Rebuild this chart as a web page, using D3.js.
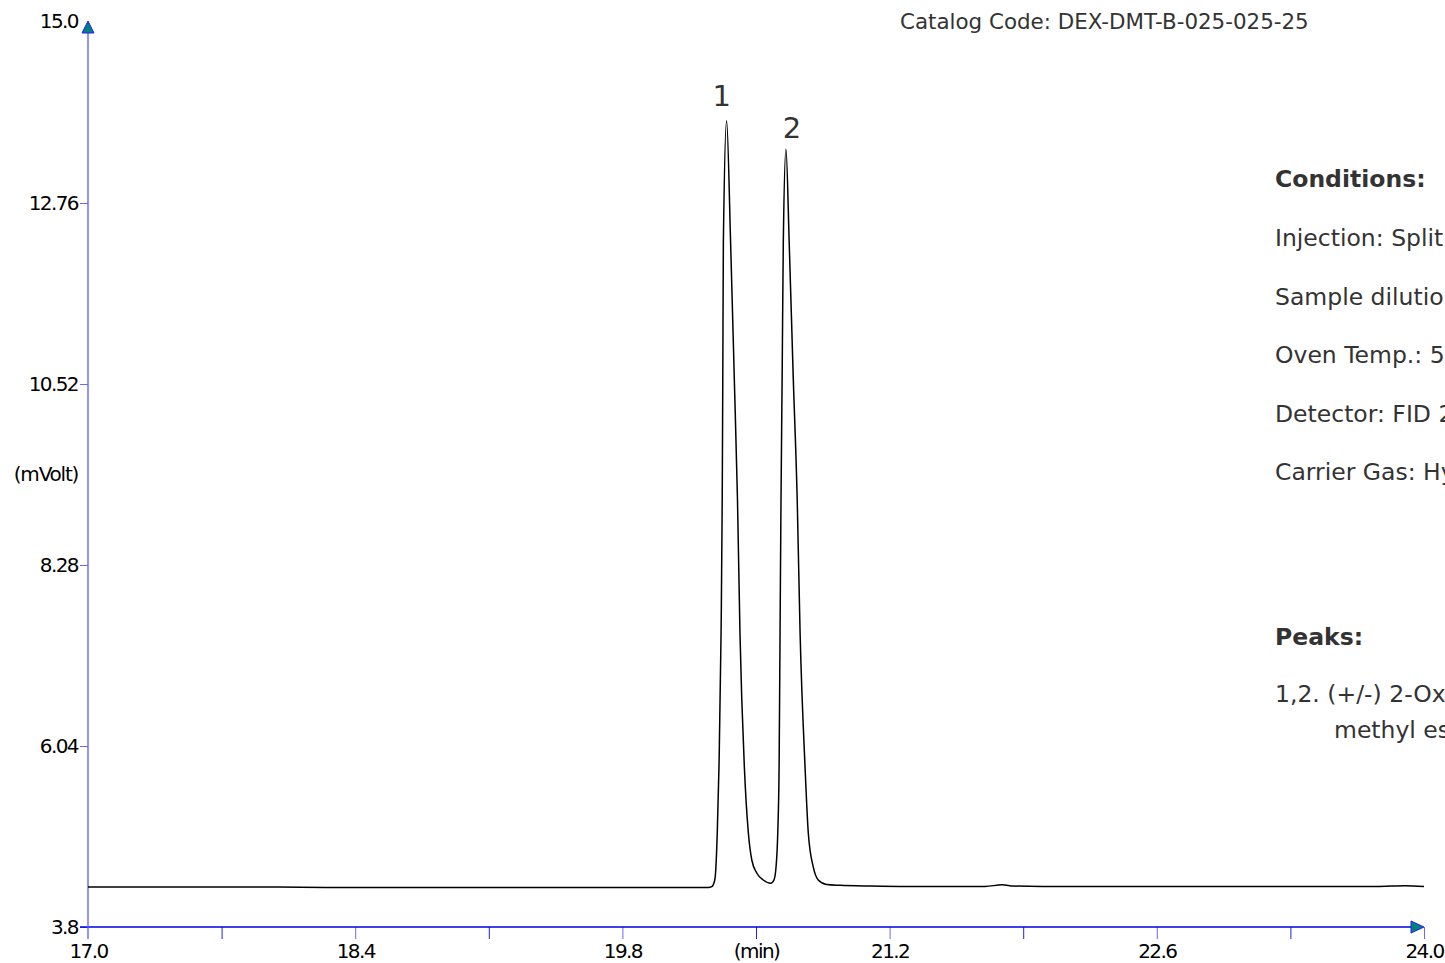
<!DOCTYPE html>
<html>
<head>
<meta charset="utf-8">
<script src="https://cdn.jsdelivr.net/npm/d3@7.9.0/dist/d3.min.js"></script>
<style>
  html, body { margin: 0; padding: 0; background: #fff; overflow: hidden; }
  svg { display: block; }
  .tick text { font-family: "DejaVu Sans", sans-serif; font-size: 20px; letter-spacing: -1.6px; fill: #000; }
  .info { font-family: "DejaVu Sans", sans-serif; font-size: 23.5px; fill: #333; }
</style>
</head>
<body>
<svg id="chart" width="1445" height="963"></svg>
<script>
// Chromatogram trace (time in min, signal in mVolt)
const times = [
  17.0, 17.25, 17.5, 17.75, 18.0, 18.25, 18.5, 18.75, 19.0, 19.25, 19.5, 19.75,
  20.0, 20.15, 20.25, 20.268, 20.284, 20.290, 20.297, 20.306, 20.317, 20.323,
  20.326, 20.329, 20.346, 20.367, 20.386, 20.403, 20.416, 20.439, 20.460, 20.478,
  20.504, 20.538, 20.577, 20.594, 20.605, 20.614, 20.621, 20.626, 20.631, 20.637,
  20.643, 20.657, 20.674, 20.695, 20.716, 20.731, 20.757, 20.774, 20.800, 20.826,
  20.870, 20.940, 21.10, 21.3, 21.5, 21.7, 21.79, 21.85, 22.0, 22.25, 22.5, 22.75,
  23.0, 23.25, 23.5, 23.75, 23.9, 24.0
];
const signal = [
  4.295, 4.295, 4.295, 4.295, 4.295, 4.29, 4.29, 4.289, 4.29, 4.289, 4.289, 4.29,
  4.289, 4.289, 4.289, 4.299, 4.382, 4.543, 4.963, 5.780, 7.439, 9.085,
  10.611, 12.265, 13.779, 12.265, 10.611, 9.085, 7.439, 5.780, 4.963, 4.629,
  4.468, 4.382, 4.341, 4.382, 4.543, 4.963, 5.780, 7.439, 9.085, 10.611,
  12.265, 13.425, 12.265, 10.611, 9.085, 7.439, 5.780, 4.963, 4.543, 4.382,
  4.326, 4.316, 4.307, 4.302, 4.302, 4.302, 4.322, 4.307, 4.302, 4.302, 4.302, 4.302,
  4.302, 4.302, 4.302, 4.302, 4.312, 4.302
];

// Peak labels
const peakNames = ["1", "2"];
const peakTimes = [20.346, 20.657];
const peakHeights = [13.779, 13.425];

// Axis ticks
const xMajorTicks = [17.0, 18.4, 19.8, 21.2, 22.6, 24.0];
const xMinorTicks = [17.7, 19.1, 20.5, 21.9, 23.3];
const yTicks = [3.8, 6.04, 8.28, 10.52, 12.76];
const yMax = 15.0;

// Side texts
const catalogText = "Catalog Code: DEX-DMT-B-025-025-25";
const conditionLines = [
  "Injection: Split",
  "Sample dilution",
  "Oven Temp.: 5",
  "Detector: FID 2",
  "Carrier Gas: Hydrogen"
];
const peakLines = ["1,2. (+/-) 2-Oxocyclopentanecarboxylic acid", "methyl ester"];

const svg = d3.select("#chart");

const x = d3.scaleLinear().domain([17, 24]).range([88, 1424]);
const y = d3.scaleLinear().domain([3.8, 15]).range([927, 22]);

const axisBlue = "#2020f0";
const arrowFill = "#008080";

// x axis: ticks downwards, no domain path
const xAxis = svg.append("g")
  .attr("transform", `translate(0,${y(3.8)})`)
  .call(d3.axisBottom(x).tickValues(xMajorTicks).tickSize(12).tickPadding(5)
    .tickSizeOuter(0).tickFormat(d3.format(".1f")));
xAxis.select(".domain").remove();
xAxis.selectAll(".tick line").attr("stroke", "#6a6aff");
xAxis.selectAll(".tick").filter(d => d === 17.0).select("line").remove();

const xMinor = svg.append("g")
  .attr("transform", `translate(0,${y(3.8)})`)
  .call(d3.axisBottom(x).tickValues(xMinorTicks).tickSize(12).tickPadding(5)
    .tickSizeOuter(0).tickFormat(d => d === 20.5 ? "(min)" : ""));
xMinor.select(".domain").remove();
xMinor.selectAll(".tick line").attr("stroke", axisBlue);

// y axis
const yAxis = svg.append("g")
  .attr("transform", `translate(${x(17)},0)`)
  .call(d3.axisLeft(y).tickValues(yTicks).tickSize(8).tickPadding(2)
    .tickSizeOuter(0).tickFormat(d => d === 3.8 ? "3.8" : d3.format(".2f")(d)));
yAxis.select(".domain").remove();
yAxis.selectAll(".tick line").attr("stroke", "#6a6aff");

// top label 15.0 sits beside the arrow tip
svg.append("text")
  .attr("x", x(17) - 10)
  .attr("y", y(yMax))
  .attr("dy", "0.32em")
  .attr("text-anchor", "end")
  .style("font-family", "DejaVu Sans, sans-serif")
  .style("font-size", "20px")
  .style("letter-spacing", "-1.6px")
  .text(d3.format(".1f")(yMax));

// y unit label
svg.append("text")
  .attr("x", 46)
  .attr("y", y((8.28 + 10.52) / 2))
  .attr("dy", "0.32em")
  .attr("text-anchor", "middle")
  .style("font-family", "DejaVu Sans, sans-serif")
  .style("font-size", "20px")
  .style("letter-spacing", "-1.2px")
  .text("(mVolt)");

// axis lines
svg.append("line")
  .attr("x1", x(17) - 8).attr("x2", x(24) - 12)
  .attr("y1", y(3.8)).attr("y2", y(3.8))
  .attr("stroke", "#0000e0").attr("stroke-width", 1.5);
svg.append("line")
  .attr("x1", x(17)).attr("x2", x(17))
  .attr("y1", y(yMax) + 10).attr("y2", y(3.8) + 12)
  .attr("stroke", "#5a5aff").attr("stroke-width", 1.3);

// arrow heads
const ax = x(17), ay = y(yMax);
svg.append("path")
  .attr("d", `M${ax},${ay - 1} L${ax - 6},${ay + 11} L${ax + 6},${ay + 11} Z`)
  .attr("fill", arrowFill).attr("stroke", axisBlue).attr("stroke-width", 1);
const rx = x(24), ry = y(3.8);
svg.append("path")
  .attr("d", `M${rx},${ry} L${rx - 13},${ry - 6} L${rx - 13},${ry + 6} Z`)
  .attr("fill", arrowFill).attr("stroke", axisBlue).attr("stroke-width", 1);

// chromatogram trace
const points = times.map((t, i) => [t, signal[i]]);
const line = d3.line()
  .x(d => x(d[0]))
  .y(d => y(d[1]))
  .curve(d3.curveMonotoneX);

svg.append("path")
  .datum(points)
  .attr("d", line)
  .attr("fill", "none")
  .attr("stroke", "#000")
  .attr("stroke-width", 1.5)
  .attr("stroke-linejoin", "round");

// peak numbers
peakNames.forEach((name, i) => {
  svg.append("text")
    .attr("x", x(peakTimes[i]) + (i === 0 ? -5 : 6))
    .attr("y", y(peakHeights[i]) - (i === 0 ? 15 : 11))
    .attr("text-anchor", "middle")
    .style("font-family", "DejaVu Sans, sans-serif")
    .style("font-size", "29px")
    .style("fill", "#333")
    .text(name);
});

// catalog code
svg.append("text")
  .attr("class", "info")
  .attr("x", 900)
  .attr("y", 29)
  .style("font-size", "21.4px")
  .text(catalogText);

// conditions block
svg.append("text")
  .attr("class", "info")
  .attr("x", 1275)
  .attr("y", 187)
  .style("font-weight", "bold")
  .text("Conditions:");

conditionLines.forEach((s, i) => {
  svg.append("text")
    .attr("class", "info")
    .attr("x", 1275)
    .attr("y", 246 + i * 58.6)
    .text(s);
});

svg.append("text")
  .attr("class", "info")
  .attr("x", 1275)
  .attr("y", 645)
  .style("font-weight", "bold")
  .text("Peaks:");

peakLines.forEach((s, i) => {
  svg.append("text")
    .attr("class", "info")
    .attr("x", i === 0 ? 1275 : 1334)
    .attr("y", 702 + i * 36)
    .text(s);
});
</script>
</body>
</html>
